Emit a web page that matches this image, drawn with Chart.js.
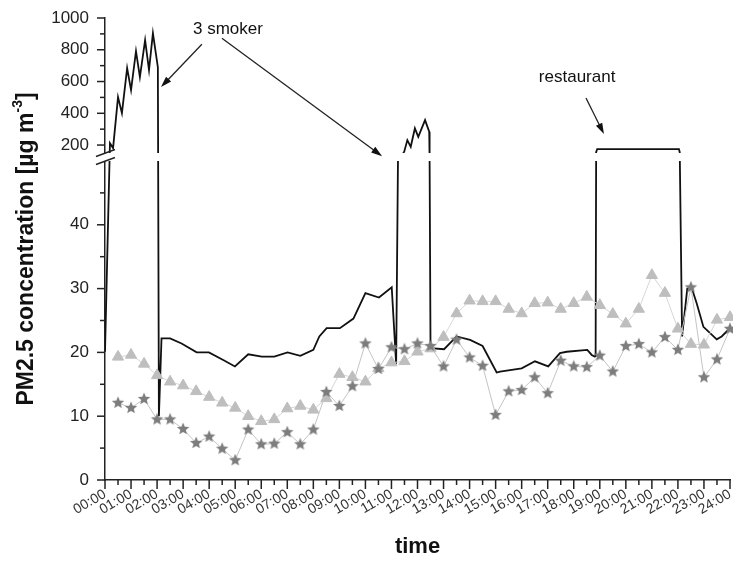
<!DOCTYPE html>
<html>
<head>
<meta charset="utf-8">
<title>PM2.5 concentration</title>
<script src="https://cdn.jsdelivr.net/npm/chart.js@4.4.1/dist/chart.umd.min.js"></script>
<style>
  html, body { margin: 0; padding: 0; background: #fff; }
</style>
</head>
<body>
<canvas id="pmChart" width="733" height="563"></canvas>
<script>
// hour labels on the time axis
const hourLabels = ['00:00', '01:00', '02:00', '03:00', '04:00', '05:00', '06:00', '07:00', '08:00',
    '09:00', '10:00', '11:00', '12:00', '13:00', '14:00', '15:00', '16:00', '17:00', '18:00',
    '19:00', '20:00', '21:00', '22:00', '23:00', '24:00'];

// labelled ticks of the broken y axis (lower and upper part)
const lowTicks = [0, 10, 20, 30, 40];
const highTicks = [200, 400, 600, 800, 1000];

// half-hourly samples (hours since midnight)
const sampleHours = [0.5, 1, 1.5, 2, 2.5, 3, 3.5, 4, 4.5, 5, 5.5, 6, 6.5, 7, 7.5, 8,
    8.5, 9, 9.5, 10, 10.5, 11, 11.5, 12, 12.5, 13, 13.5, 14, 14.5, 15, 15.5, 16,
    16.5, 17, 17.5, 18, 18.5, 19, 19.5, 20, 20.5, 21, 21.5, 22, 22.5, 23, 23.5, 24];
const triangleValues = [19.3, 19.6, 18.2, 16.4, 15.4, 14.8, 13.9, 13.0, 12.1, 11.3, 10.0, 9.2, 9.5, 11.2, 11.6, 11.0,
    12.8, 16.6, 16.1, 15.4, 17.5, 18.4, 18.6, 20.1, 20.6, 22.4, 26.1, 28.1, 28.0, 28.0, 26.8, 26.1,
    27.7, 27.8, 26.8, 27.7, 28.7, 27.4, 26.0, 24.5, 26.8, 32.1, 29.3, 23.7, 21.3, 21.2, 25.1, 25.5];
const starValues = [12.1, 11.3, 12.7, 9.5, 9.5, 8.0, 5.8, 6.8, 4.9, 3.1, 7.9, 5.6, 5.7, 7.5, 5.6, 7.9,
    13.8, 11.6, 14.7, 21.4, 17.4, 20.8, 20.5, 21.4, 21.0, 17.8, 22.0, 19.2, 17.9, 10.2, 13.9, 14.1,
    16.1, 13.6, 18.7, 17.8, 17.7, 19.5, 17.0, 21.0, 21.3, 20.0, 22.4, 20.4, 30.2, 16.1, 18.9, 23.7];

// continuous monitor trace
const traceHours = [0, 0.19, 0.31, 0.5, 0.65, 0.85, 1.0, 1.19, 1.34, 1.54, 1.69, 1.84, 2.03, 2.07, 2.17,
    2.5, 2.94, 3.52, 3.99, 4.54, 4.99, 5.5, 6.02, 6.5, 7.01, 7.5, 8.0, 8.23, 8.51, 9.02, 9.54, 10.0,
    10.52, 11.01, 11.18, 11.25, 11.49, 11.61, 11.74, 11.9, 12.03, 12.29, 12.45, 12.46, 12.47, 12.5,
    13.02, 13.5, 14.02, 14.5, 15.04, 15.17, 16.0, 16.51, 17.02, 17.47, 17.73, 18.52, 18.69, 18.8,
    18.84, 18.86, 18.9, 22.04, 22.07, 22.16, 22.36, 22.53, 22.72, 22.98, 23.49, 23.68, 24.0];
const traceValues = [20.1, 212, 181, 502, 401, 684, 546, 791, 628, 860, 672, 904, 690, 10, 22.2,
    22.2, 21.4, 20.0, 20.0, 18.8, 17.8, 19.7, 19.35, 19.35, 20.0, 19.45, 20.4, 22.5, 23.8, 23.8, 25.3, 29.3,
    28.6, 30.2, 18.2, 50, 158, 231, 189, 305, 252, 357, 284, 158, 50, 20.65,
    20.5, 22.5, 21.95, 21.0, 16.85, 17.0, 17.5, 18.6, 17.8, 19.9, 20.1, 20.4, 19.6, 19.35,
    19.4, 155, 175, 175, 155, 22.5, 30.0, 30.1, 27.7, 24.0, 22.05, 22.5, 23.8];

// annotation anchors in data units (hours, µg/m³)
const notes = [
    { text: '3 smoker', at: [4.72, 901], arrows: [[3.72, 835, 2.15, 565], [4.49, 873, 10.64, 110]] },
    { text: 'restaurant', at: [18.13, 599], arrows: [[18.47, 496, 19.16, 269]] }
];

// where the y axis is broken
const LOW_MAX = 50, HIGH_MIN = 150, TOP = 1000;
const LOW_PART = 0.6905, GAP_PART = 0.0173;

class BrokenScale extends Chart.LinearScale {
    static id = 'broken';
    determineDataLimits() {
        this.min = 0;
        this.max = TOP;
    }
    buildTicks() {
        return lowTicks.concat(highTicks).map(v => ({ value: v }));
    }
    getPixelForValue(v) {
        let d;
        if (v <= LOW_MAX) d = v / LOW_MAX * LOW_PART;
        else if (v < HIGH_MIN) d = LOW_PART + (v - LOW_MAX) / (HIGH_MIN - LOW_MAX) * GAP_PART;
        else d = LOW_PART + GAP_PART + (v - HIGH_MIN) / (TOP - HIGH_MIN) * (1 - LOW_PART - GAP_PART);
        return this.getPixelForDecimal(d);
    }
    getValueForPixel(p) {
        const d = this.getDecimalForPixel(p);
        if (d <= LOW_PART) return d / LOW_PART * LOW_MAX;
        if (d < LOW_PART + GAP_PART) return LOW_MAX + (d - LOW_PART) / GAP_PART * (HIGH_MIN - LOW_MAX);
        return HIGH_MIN + (d - LOW_PART - GAP_PART) / (1 - LOW_PART - GAP_PART) * (TOP - HIGH_MIN);
    }
}
Chart.register(BrokenScale);

function starImage(size, color) {
    const c = document.createElement('canvas');
    c.width = c.height = size;
    const g = c.getContext('2d');
    const r = size / 2 - 0.5, ri = r * 0.45;
    g.beginPath();
    for (let i = 0; i < 10; i++) {
        const a = -Math.PI / 2 + i * Math.PI / 5;
        const rr = i % 2 ? ri : r;
        g.lineTo(size / 2 + rr * Math.cos(a), size / 2 + rr * Math.sin(a));
    }
    g.closePath();
    g.fillStyle = color;
    g.fill();
    return c;
}

function arrow(ctx, x1, y1, x2, y2) {
    const ang = Math.atan2(y2 - y1, x2 - x1);
    const len = 11, half = 3.5;
    ctx.beginPath();
    ctx.moveTo(x1, y1);
    ctx.lineTo(x2 - Math.cos(ang) * len * 0.8, y2 - Math.sin(ang) * len * 0.8);
    ctx.stroke();
    ctx.beginPath();
    ctx.moveTo(x2, y2);
    ctx.lineTo(x2 - Math.cos(ang) * len - Math.sin(ang) * half, y2 - Math.sin(ang) * len + Math.cos(ang) * half);
    ctx.lineTo(x2 - Math.cos(ang) * len + Math.sin(ang) * half, y2 - Math.sin(ang) * len - Math.cos(ang) * half);
    ctx.closePath();
    ctx.fill();
}

const decorations = {
    id: 'decorations',
    afterDraw(chart) {
        const { ctx, chartArea: a, scales: { x, y } } = chart;
        ctx.save();

        // gap of the broken axis
        const gTop = y.getPixelForValue(HIGH_MIN), gBot = y.getPixelForValue(LOW_MAX);
        ctx.fillStyle = '#fff';
        ctx.fillRect(a.left - 12, gTop, a.right - a.left + 16, gBot - gTop);
        ctx.strokeStyle = '#222';
        ctx.lineWidth = 1.4;
        [gTop, gBot].forEach(py => {
            ctx.beginPath();
            ctx.moveTo(a.left - 9, py + 3.5);
            ctx.lineTo(a.left + 10, py - 3.5);
            ctx.stroke();
        });

        // tick marks
        ctx.lineWidth = 1.5;
        const yTick = (v, len) => {
            const py = y.getPixelForValue(v);
            ctx.beginPath(); ctx.moveTo(a.left - len, py); ctx.lineTo(a.left, py); ctx.stroke();
        };
        lowTicks.concat(highTicks).forEach(v => yTick(v, 8));
        lowTicks.forEach(v => yTick(v + 5, 5));
        highTicks.slice(0, -1).forEach(v => yTick(v + 100, 5));
        hourLabels.forEach((lab, h) => {
            const px = x.getPixelForValue(h);
            ctx.beginPath(); ctx.moveTo(px, a.bottom); ctx.lineTo(px, a.bottom + 9); ctx.stroke();
            if (h < hourLabels.length - 1) {
                const pm = x.getPixelForValue(h + 0.5);
                ctx.beginPath(); ctx.moveTo(pm, a.bottom); ctx.lineTo(pm, a.bottom + 5); ctx.stroke();
            }
        });

        // annotations
        ctx.fillStyle = '#111';
        ctx.strokeStyle = '#222';
        ctx.lineWidth = 1.3;
        ctx.font = "17px 'Liberation Sans', Arial, sans-serif";
        ctx.textAlign = 'center';
        ctx.textBaseline = 'alphabetic';
        notes.forEach(n => {
            ctx.fillText(n.text, x.getPixelForValue(n.at[0]), y.getPixelForValue(n.at[1]));
            n.arrows.forEach(ar => arrow(ctx,
                x.getPixelForValue(ar[0]), y.getPixelForValue(ar[1]),
                x.getPixelForValue(ar[2]), y.getPixelForValue(ar[3])));
        });

        // y axis title with superscript
        const cy = (a.top + a.bottom) / 2;
        ctx.translate(33, cy);
        ctx.rotate(-Math.PI / 2);
        ctx.textAlign = 'left';
        const big = "bold 23px 'Liberation Sans', Arial, sans-serif";
        const small = "bold 14px 'Liberation Sans', Arial, sans-serif";
        const p1 = 'PM2.5 concentration [µg m', p2 = '-3', p3 = ']';
        ctx.font = big; const w1 = ctx.measureText(p1).width, w3 = ctx.measureText(p3).width;
        ctx.font = small; const w2 = ctx.measureText(p2).width;
        let sx = -(w1 + w2 + w3) / 2;
        ctx.font = big; ctx.fillText(p1, sx, 0); sx += w1;
        ctx.font = small; ctx.fillText(p2, sx, -11); sx += w2;
        ctx.font = big; ctx.fillText(p3, sx, 0);

        ctx.restore();
    }
};

Chart.defaults.font.family = "'Liberation Sans', Arial, sans-serif";

const ctx = document.getElementById('pmChart').getContext('2d');
new Chart(ctx, {
    type: 'line',
    data: {
        datasets: [
            {
                label: 'stars',
                data: sampleHours.map((h, i) => ({ x: h, y: starValues[i] })),
                borderColor: '#c4c4c4',
                borderWidth: 1,
                pointStyle: starImage(14, '#7d7d7d'),
                pointRadius: 6,
                clip: false,
                order: 0
            },
            {
                label: 'triangles',
                data: sampleHours.map((h, i) => ({ x: h, y: triangleValues[i] })),
                borderColor: '#d6d6d6',
                borderWidth: 1,
                pointStyle: 'triangle',
                pointRadius: 6.5,
                pointBackgroundColor: '#bebebe',
                pointBorderColor: '#bebebe',
                pointBorderWidth: 1,
                clip: false,
                order: 1
            },
            {
                label: 'monitor',
                data: traceHours.map((h, i) => ({ x: h, y: traceValues[i] })),
                borderColor: '#111',
                borderWidth: 1.8,
                pointRadius: 0,
                tension: 0,
                order: 2
            }
        ]
    },
    options: {
        responsive: false,
        animation: false,
        events: [],
        layout: { autoPadding: false, padding: { top: 18, right: 3, left: 0, bottom: 0 } },
        plugins: {
            legend: { display: false },
            tooltip: { enabled: false }
        },
        scales: {
            x: {
                type: 'linear',
                min: 0,
                max: 24,
                grid: { display: false, drawTicks: false },
                border: { display: true, color: '#222', width: 1.5 },
                ticks: {
                    stepSize: 1,
                    autoSkip: false,
                    maxRotation: 30,
                    minRotation: 30,
                    padding: 6,
                    color: '#333',
                    font: { size: 14 },
                    callback: v => hourLabels[v]
                },
                title: {
                    display: true,
                    text: 'time',
                    color: '#111',
                    font: { size: 22, weight: 'bold' },
                    padding: { top: 0, bottom: 3 }
                },
                afterFit: s => {
                    s.height = 83;
                    s.paddingLeft = 0;
                    s.paddingRight = 0;
                }
            },
            y: {
                type: 'broken',
                position: 'left',
                grid: { display: false, drawTicks: false },
                border: { display: true, color: '#222', width: 1.5 },
                ticks: {
                    autoSkip: false,
                    padding: 16,
                    color: '#222',
                    font: { size: 17 },
                    callback: v => String(v)
                },
                afterFit: s => {
                    s.width = 105;
                    s.paddingTop = 0;
                    s.paddingBottom = 0;
                }
            }
        }
    },
    plugins: [decorations]
});
</script>
</body>
</html>
